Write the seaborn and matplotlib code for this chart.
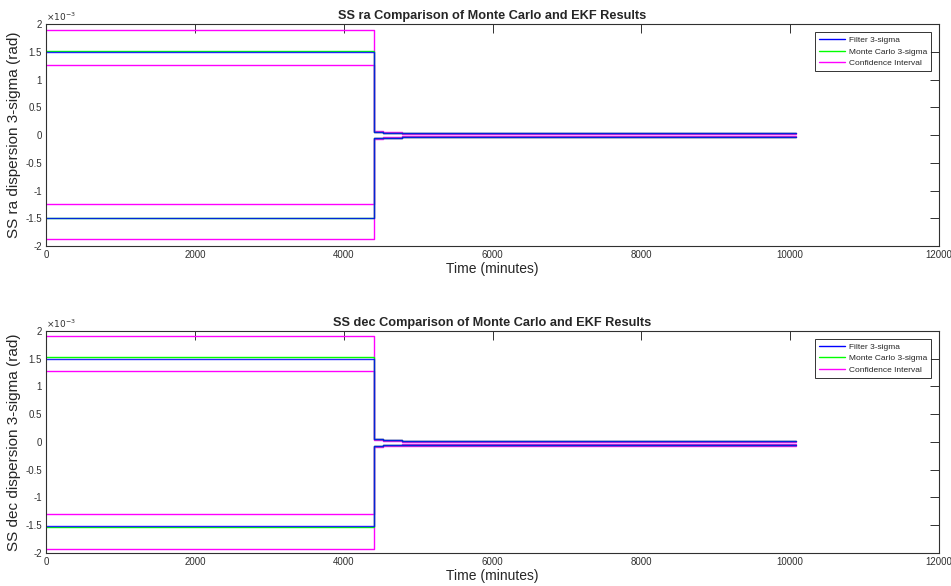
import numpy as np
import matplotlib
matplotlib.use("Agg")
import matplotlib.pyplot as plt
from matplotlib.lines import Line2D
from matplotlib.ticker import FuncFormatter
import seaborn as sns

# time breakpoints (minutes); values hold until the next breakpoint
time_min = [0, 4410, 4530, 4780, 10080]

# SS ra, values in units of 1e-3 rad
ra_filter_hi = [1.50, 0.060, 0.045, 0.030, 0.030]
ra_filter_lo = [-1.50, -0.060, -0.045, -0.030, -0.030]
ra_mc_hi = [1.52, 0.060, 0.045, 0.030, 0.030]
ra_mc_lo = [-1.49, -0.060, -0.045, -0.030, -0.030]
ra_ci_hi_up = [1.886, 0.075, 0.056, 0.037, 0.037]
ra_ci_hi_dn = [1.27, 0.050, 0.037, 0.024, 0.024]
ra_ci_lo_up = [-1.25, -0.050, -0.037, -0.024, -0.024]
ra_ci_lo_dn = [-1.87, -0.075, -0.056, -0.037, -0.037]

# SS dec, values in units of 1e-3 rad
dec_filter_hi = [1.49, 0.045, 0.030, 0.010, 0.010]
dec_filter_lo = [-1.51, -0.075, -0.060, -0.055, -0.055]
dec_mc_hi = [1.53, 0.045, 0.030, 0.010, 0.010]
dec_mc_lo = [-1.53, -0.075, -0.060, -0.055, -0.055]
dec_ci_hi_up = [1.91, 0.060, 0.040, 0.017, 0.017]
dec_ci_hi_dn = [1.28, 0.035, 0.022, 0.005, 0.005]
dec_ci_lo_up = [-1.29, -0.065, -0.050, -0.045, -0.045]
dec_ci_lo_dn = [-1.92, -0.090, -0.072, -0.066, -0.066]

legend_labels = ["Filter 3-sigma", "Monte Carlo 3-sigma", "Confidence Interval"]
colors = ["#0000ff", "#00ff00", "#ff00ff"]

sns.set_theme(style="white")
plt.rcParams["font.family"] = ["Liberation Sans", "DejaVu Sans"]
plt.rcParams["axes.unicode_minus"] = False

fig = plt.figure(figsize=(9.51, 5.86), dpi=100)
ax1 = fig.add_axes([0.0484, 0.580, 0.939, 0.379])
ax2 = fig.add_axes([0.0484, 0.0563, 0.939, 0.379])


def draw(ax, name, filt, mc, ci):
    for ys in ci:
        sns.lineplot(x=time_min, y=np.array(ys) * 1e-3, ax=ax, color=colors[2],
                     lw=1.0, drawstyle="steps-post", estimator=None, sort=False)
    for ys in mc:
        sns.lineplot(x=time_min, y=np.array(ys) * 1e-3, ax=ax, color=colors[1],
                     lw=1.0, drawstyle="steps-post", estimator=None, sort=False)
    for ys in filt:
        sns.lineplot(x=time_min, y=np.array(ys) * 1e-3, ax=ax, color=colors[0],
                     lw=1.0, alpha=0.85, drawstyle="steps-post", estimator=None, sort=False)

    ax.set_xlim(0, 12000)
    ax.set_ylim(-2e-3, 2e-3)
    ax.set_xticks(np.arange(0, 12001, 2000))
    ax.set_yticks(np.arange(-2e-3, 2.0001e-3, 0.5e-3))
    ax.yaxis.set_major_formatter(FuncFormatter(lambda v, p: "%g" % round(v * 1e3, 3)))
    ax.tick_params(direction="in", length=6.5, width=0.7, top=True, right=True,
                   labelsize=7, colors="#303030", pad=3)
    for s in ax.spines.values():
        s.set_color("#303030")
        s.set_linewidth(0.8)
    ax.text(0.0, 1.005, r"$\times10^{-3}$", transform=ax.transAxes, fontsize=6.5,
            color="#303030", ha="left", va="bottom")
    ax.set_title(f"SS {name} Comparison of Monte Carlo and EKF Results",
                 fontsize=9.2, fontweight="bold", pad=3.5)
    ax.set_xlabel("Time (minutes)", fontsize=10, labelpad=1)
    ax.set_ylabel(f"SS {name} dispersion 3-sigma (rad)", fontsize=11, labelpad=3)

    handles = [Line2D([], [], color=c, lw=1.0) for c in colors]
    leg = ax.legend(handles, legend_labels, loc="upper right", fontsize=6,
                    frameon=True, fancybox=False, edgecolor="black",
                    borderaxespad=1.0, handlelength=3.2, handletextpad=0.4,
                    labelspacing=0.45, borderpad=0.45)
    leg.get_frame().set_linewidth(0.7)


draw(ax1, "ra", [ra_filter_hi, ra_filter_lo], [ra_mc_hi, ra_mc_lo],
     [ra_ci_hi_up, ra_ci_hi_dn, ra_ci_lo_up, ra_ci_lo_dn])
draw(ax2, "dec", [dec_filter_hi, dec_filter_lo], [dec_mc_hi, dec_mc_lo],
     [dec_ci_hi_up, dec_ci_hi_dn, dec_ci_lo_up, dec_ci_lo_dn])

fig.savefig("out.png", dpi=100)
